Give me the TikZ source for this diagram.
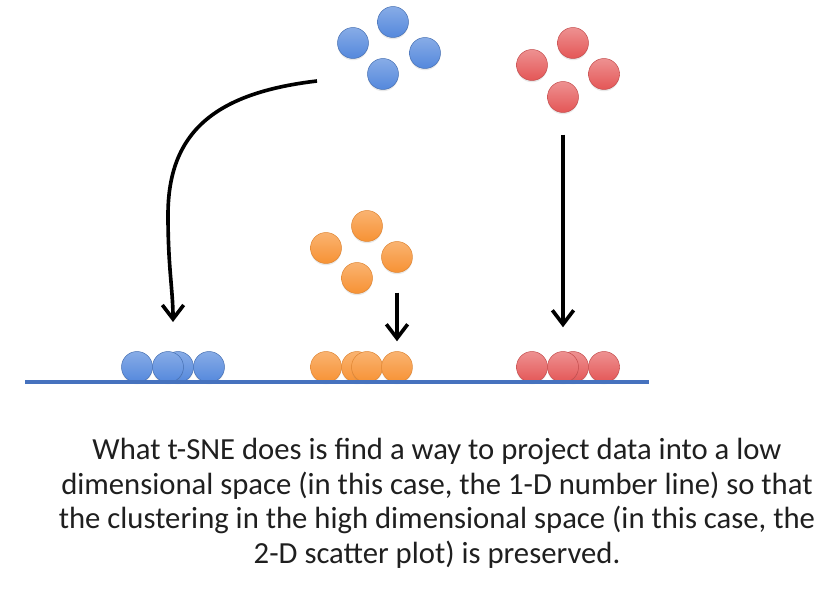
\documentclass[tikz,border=0pt]{standalone}
\usepackage{fontspec}
\setmainfont{Carlito}
\usepackage{tikz}
\usetikzlibrary{arrows.meta, shadows}
\definecolor{dot-blue}{RGB}{84, 136, 220}
\definecolor{dot-red}{RGB}{228, 86, 86}
\definecolor{dot-orange}{RGB}{247, 146, 52}
\definecolor{axis-blue}{RGB}{70, 114, 190}

\begin{document}
\begin{tikzpicture}[x=0.03cm, y=-0.03cm,
  dot/.style={circle, minimum size=0.93cm, inner sep=0pt, line width=0.4pt,
              drop shadow={opacity=0.18, shadow xshift=0pt, shadow yshift=-1.5pt}},
  bdot/.style={dot, draw=dot-blue!80!black, top color=dot-blue!70!white, bottom color=dot-blue},
  rdot/.style={dot, draw=dot-red!85!black, top color=dot-red!65!white, bottom color=dot-red},
  odot/.style={dot, draw=dot-orange!90!black, top color=dot-orange!70!white, bottom color=dot-orange},
  arr/.style={-{Straight Barb[length=0.42cm, width=0.64cm]}, line width=3.1pt, black},
  txt/.style={font=\fontsize{26.2}{29.6}\selectfont, color=black!88, align=center}
]
  \useasboundingbox (0,0) rectangle (836,597);

  % 2-D clusters
  \node[bdot] (bt1) at (393,22) {};
  \node[bdot] (bt2) at (353,43) {};
  \node[bdot] (bt3) at (425,53) {};
  \node[bdot] (bt4) at (383,74) {};

  \node[rdot] (rt1) at (573,43) {};
  \node[rdot] (rt2) at (532,65) {};
  \node[rdot] (rt3) at (604,74) {};
  \node[rdot] (rt4) at (563,97) {};

  \node[odot] (ot1) at (367,226) {};
  \node[odot] (ot2) at (326,248) {};
  \node[odot] (ot3) at (397,257) {};
  \node[odot] (ot4) at (357,278) {};

  % number line
  \coordinate (ax0) at (25,382);
  \coordinate (ax1) at (649,382);

  % 1-D projection
  \node[bdot] (bl1) at (137,367) {};
  \node[bdot] (bl3) at (178,367) {};
  \node[bdot] (bl2) at (168,367) {};
  \node[bdot] (bl4) at (209,367) {};

  \node[odot] (ol1) at (326,367) {};
  \node[odot] (ol2) at (357,367) {};
  \node[odot] (ol3) at (367,367) {};
  \node[odot] (ol4) at (397,367) {};

  \node[rdot] (rl1) at (532,367) {};
  \node[rdot] (rl3) at (573,367) {};
  \node[rdot] (rl2) at (563,367) {};
  \node[rdot] (rl4) at (604,367) {};

  \draw[axis-blue, line width=2.8pt] (ax0) -- (ax1);

  \coordinate (bfrom) at (317,81);
  \coordinate (bto)   at (173,322);
  \draw[arr] (bfrom) .. controls (215,93) and (168,132) .. (168,215)
                     .. controls (168,268) and (173,290) .. (bto);
  \draw[arr, shorten <=0.6cm, shorten >=0.3cm] (ot3) -- (ol4);
  \draw[arr, shorten <=0.66cm, shorten >=0.72cm] (rt4) -- (rl2);

  \node[txt, anchor=north] (cap) at (437,434)
    {What t-SNE does is find a way to project data into a low\\
     dimensional space (in this case, the 1-D number line) so that\\
     the clustering in the high dimensional space (in this case, the\\
     2-D scatter plot) is preserved.};
\end{tikzpicture}
\end{document}
